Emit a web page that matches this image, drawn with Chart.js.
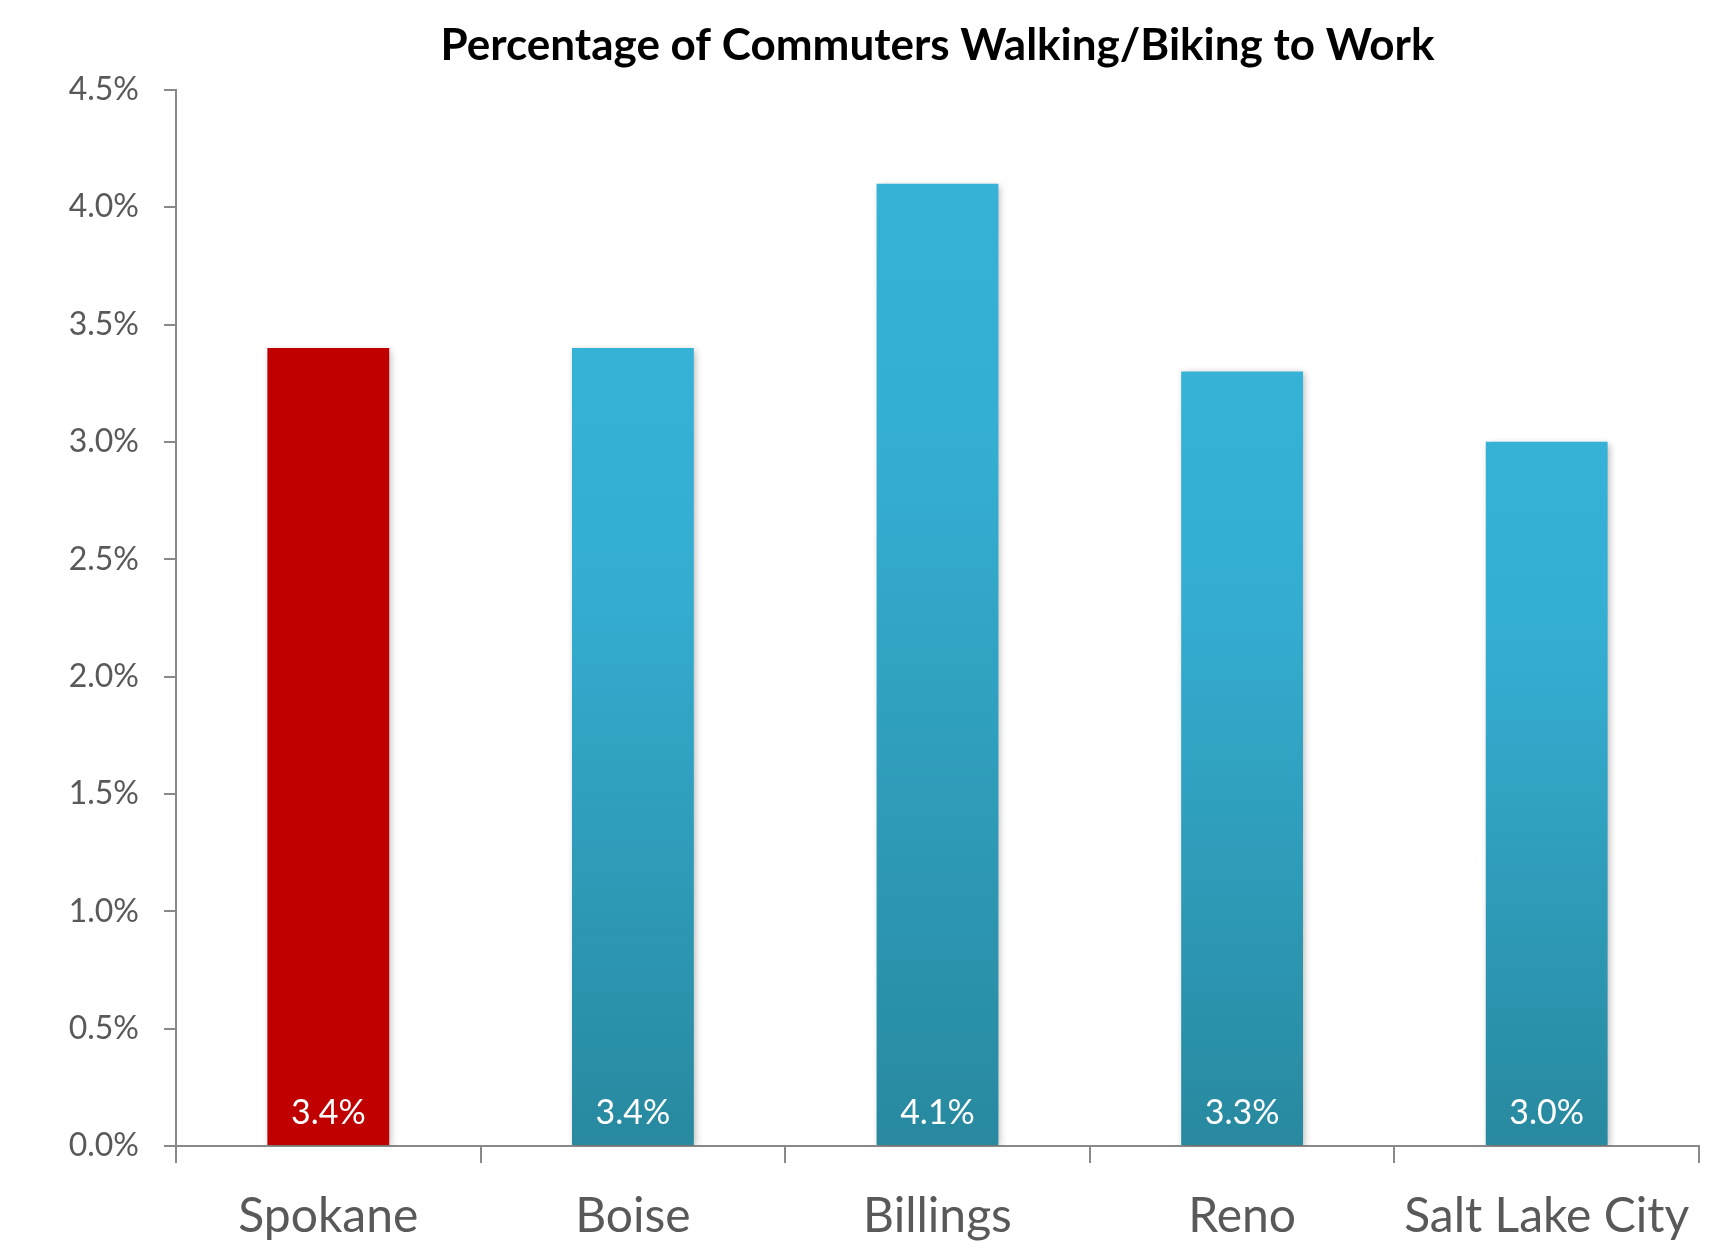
<!DOCTYPE html>
<html>
<head>
<meta charset="utf-8">
<script src="https://cdn.jsdelivr.net/npm/chart.js@4/dist/chart.umd.min.js"></script>
<style>
  html, body { margin: 0; padding: 0; background: #ffffff; }
  #wrap { width: 1736px; height: 1255px; }
</style>
</head>
<body>
<div id="wrap"><canvas id="c" width="1736" height="1255"></canvas></div>
<script>
const categories = ["Spokane", "Boise", "Billings", "Reno", "Salt Lake City"];
const values = [3.4, 3.4, 4.1, 3.3, 3.0];
const highlighted = [true, false, false, false, false];
const yMax = 4.5;
const yStep = 0.5;
const titleText = "Percentage of Commuters Walking/Biking to Work";

const FONT = "Lato, 'Open Sans', sans-serif";

function barColor(c) {
  const i = c.dataIndex;
  if (highlighted[i]) return "#C00000";
  const chart = c.chart;
  const ys = chart.scales && chart.scales.y;
  if (!ys || !chart.chartArea) return "#33A9CC";
  const top = ys.getPixelForValue(values[i]);
  const base = ys.getPixelForValue(0);
  const g = chart.ctx.createLinearGradient(0, top, 0, base);
  g.addColorStop(0, "#35B2D6");
  g.addColorStop(0.3, "#34ADD1");
  g.addColorStop(1, "#28899F");
  return g;
}

const shadowPlugin = {
  id: "barShadow",
  beforeDatasetsDraw(chart) {
    const ctx = chart.ctx;
    ctx.save();
    ctx.shadowColor = "rgba(0,0,0,0.28)";
    ctx.shadowBlur = 7;
    ctx.shadowOffsetX = 2;
    ctx.shadowOffsetY = 2;
  },
  afterDatasetsDraw(chart) {
    chart.ctx.restore();
  }
};

const labelPlugin = {
  id: "barLabels",
  afterDraw(chart) {
    const ctx = chart.ctx;
    const meta = chart.getDatasetMeta(0);
    const base = chart.scales.y.getPixelForValue(0);
    ctx.save();
    ctx.fillStyle = "#ffffff";
    ctx.font = "34px " + FONT;
    ctx.textAlign = "center";
    ctx.textBaseline = "alphabetic";
    meta.data.forEach((el, i) => {
      ctx.fillText(values[i].toFixed(1) + "%", el.x, base - 22);
    });
    ctx.restore();
  }
};

new Chart(document.getElementById("c"), {
  type: "bar",
  data: {
    labels: categories,
    datasets: [{
      data: values,
      backgroundColor: barColor,
      borderWidth: 0,
      categoryPercentage: 1.0,
      barPercentage: 0.4
    }]
  },
  options: {
    responsive: false,
    animation: false,
    devicePixelRatio: 1,
    layout: { padding: { top: 0, right: 37, bottom: 0, left: 0 } },
    plugins: {
      legend: { display: false },
      tooltip: { enabled: false },
      title: {
        display: true,
        fullSize: false,
        text: titleText,
        color: "#000000",
        font: { family: FONT, size: 44, weight: "bold", lineHeight: 1.2 },
        padding: { top: 19, bottom: 18 }
      }
    },
    scales: {
      x: {
        grid: {
          display: true,
          offset: true,
          drawOnChartArea: false,
          drawTicks: true,
          tickLength: 17,
          color: "#898989",
          lineWidth: 2
        },
        border: { display: true, color: "#898989", width: 2 },
        ticks: {
          color: "#595959",
          font: { family: FONT, size: 48 },
          padding: 25,
          maxRotation: 0,
          autoSkip: false
        },
        afterFit(scale) { scale.height = 109; }
      },
      y: {
        min: 0,
        max: yMax,
        grid: {
          display: true,
          drawOnChartArea: false,
          drawTicks: true,
          tickLength: 12,
          color: "#898989",
          lineWidth: 2
        },
        border: { display: true, color: "#898989", width: 2 },
        ticks: {
          stepSize: yStep,
          color: "#595959",
          font: { family: FONT, size: 32 },
          padding: 25,
          callback: (v) => Number(v).toFixed(1) + "%"
        },
        afterFit(scale) { scale.width = 176; }
      }
    }
  },
  plugins: [shadowPlugin, labelPlugin]
});
</script>
</body>
</html>
